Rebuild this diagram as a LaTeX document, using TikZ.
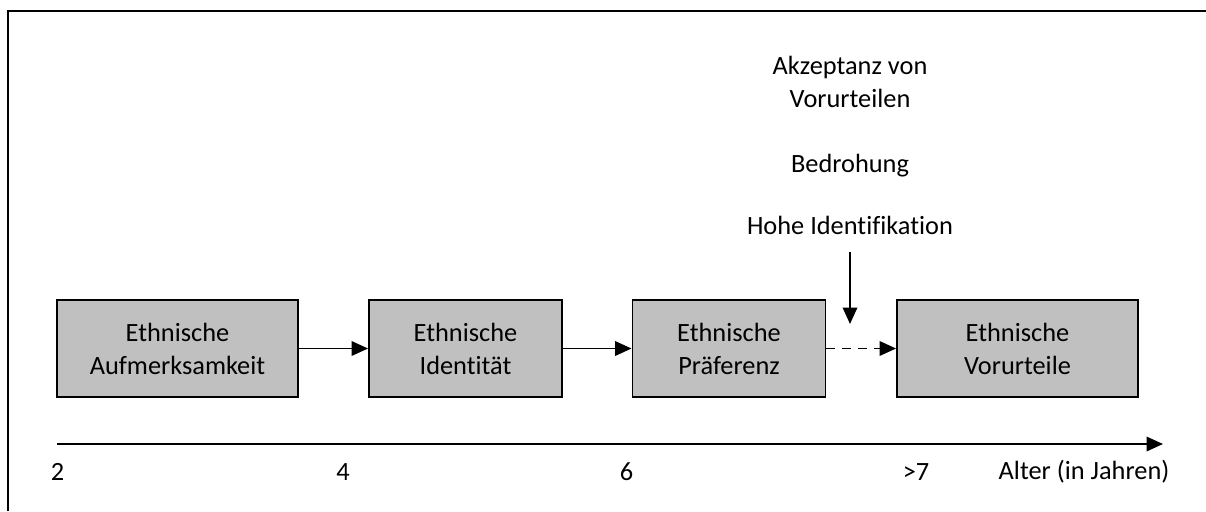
\documentclass[tikz,border=0pt]{standalone}
\usepackage{fontspec}
\setmainfont{Carlito}[Ligatures=NoCommon]
\usetikzlibrary{positioning,arrows.meta}
\definecolor{cInk}{HTML}{000000}
\definecolor{cBox}{HTML}{C0C0C0}

\begin{document}
\begin{tikzpicture}[x=0.02cm,y=-0.02cm,
      stage/.style={draw=cInk,fill=cBox,line width=1.1pt,minimum height=1.94cm,
                    align=center,inner sep=0pt,font=\fontsize{15}{18.8}\selectfont},
      wstage/.style={stage,minimum width=4.82cm},
      nstage/.style={stage,minimum width=3.86cm},
      arr/.style={-{Triangle[length=3.3mm,width=2.9mm]},cInk,line width=1.1pt},
      lab/.style={font=\fontsize{15}{18.8}\selectfont,align=center,inner sep=0pt}]
    \useasboundingbox (0,0) rectangle (1206,511);
    % frame (cut off at right and bottom)
    \draw[cInk,line width=1.2pt] (8,511) -- (8,11) -- (1206,11);
    % stages
    \node[wstage] (s1) at (177.5,348.5) {Ethnische\\Aufmerksamkeit};
    \node[nstage] (s2) at (465.5,348.5) {Ethnische\\Identität};
    \node[nstage] (s3) at (729,348.5)   {Ethnische\\Präferenz};
    \node[wstage] (s4) at (1017.5,348.5) {Ethnische\\Vorurteile};
    \draw[arr] (s1) -- (s2); \draw[arr] (s2) -- (s3);
    \draw[arr,dash pattern=on 5pt off 4pt] (s3) -- (s4);
    % conditions
    \node[lab] (akz) at (850,82) {Akzeptanz von\\Vorurteilen};
    \node[lab] (bed) at (850,166) {Bedrohung};
    \node[lab] (hoh) at (850,225) {Hohe Identifikation};
    \coordinate (dtop) at (850,252);
    \coordinate (dtip) at (850,324);
    \draw[arr] (dtop) -- (dtip);
    % age axis
    \coordinate (ax0) at (57,444);
    \coordinate (ax1) at (1163,444);
    \draw[arr] (ax0) -- (ax1);
    \node[lab] (a2) at (57.5,472) {2};
    \node[lab] (a4) at (343,472) {4};
    \node[lab] (a6) at (626.5,472) {6};
    \node[lab] (a7) at (916,472) {>7};
    \node[lab] (alt) at (1084,472) {Alter (in Jahren)};
  \end{tikzpicture}
\end{document}
